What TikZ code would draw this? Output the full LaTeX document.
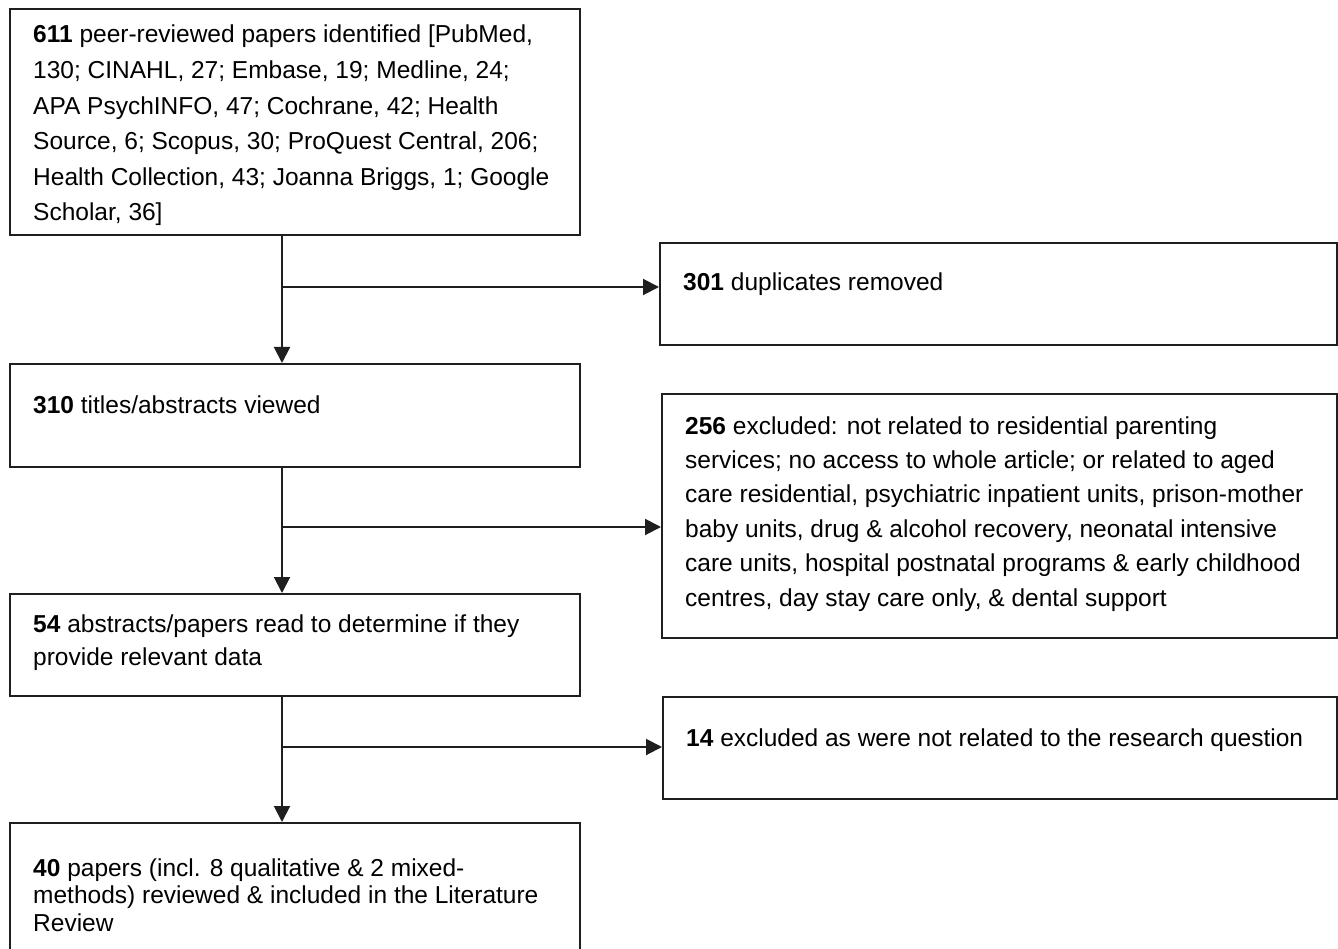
\documentclass[tikz,border=0pt]{standalone}
\usepackage{fontspec}
\setmainfont{Liberation Sans}
\usetikzlibrary{arrows.meta}
\begin{document}
\begin{tikzpicture}[x=1pt,y=-1pt,
  frame/.style={draw=black!88, line width=2pt, inner sep=0pt, anchor=north west},
  txt/.style={anchor=base west, align=left, inner sep=0pt, font=\fontsize{24.5}{#1}\selectfont},
  txt/.default=34.6,
  conn/.style={draw=black!88, line width=2pt},
  arr/.style={conn, -{Triangle[length=16pt,width=16pt]}}]
\useasboundingbox (0,0) rectangle (1338,949);
\clip (0,0) rectangle (1338,949);
\fill[white] (0,0) rectangle (1338,949);
% boxes
\node[frame, minimum width=570pt, minimum height=226pt] (b1) at (9,8) {};
\node[frame, minimum width=677pt, minimum height=102pt] (b2) at (659,242) {};
\node[frame, minimum width=570pt, minimum height=103pt] (b3) at (9,363) {};
\node[frame, minimum width=675pt, minimum height=244pt] (b4) at (661,393) {};
\node[frame, minimum width=570pt, minimum height=102pt] (b5) at (9,593) {};
\node[frame, minimum width=674pt, minimum height=102pt] (b6) at (662,696) {};
\node[frame, minimum width=570pt, minimum height=200pt] (b7) at (9,822) {};
% texts (anchor = baseline of the last line)
\node[txt=35.6] (t1) at (33,221) {\textbf{611} peer-reviewed papers identified [PubMed,\\
130; CINAHL, 27; Embase, 19; Medline, 24;\\
APA PsychINFO, 47; Cochrane, 42; Health\\
Source, 6; Scopus, 30; ProQuest Central, 206;\\
Health Collection, 43; Joanna Briggs, 1; Google\\
Scholar, 36]};
\node[txt] (t2) at (683,291) {\textbf{301} duplicates removed};
\node[txt] (t3) at (33,413) {\textbf{310} titles/abstracts viewed};
\node[txt=34.4] (t4) at (685,606) {\textbf{256} excluded: not related to residential parenting\\
services; no access to whole article; or related to aged\\
care residential, psychiatric inpatient units, prison-mother\\
baby units, drug \& alcohol recovery, neonatal intensive\\
care units, hospital postnatal programs \& early childhood\\
centres, day stay care only, \& dental support};
\node[txt=33] (t5) at (33,665) {\textbf{54} abstracts/papers read to determine if they\\
provide relevant data};
\node[txt] (t6) at (686,746) {\textbf{14} excluded as were not related to the research question};
\node[txt=27.5] (t7) at (33,931) {\textbf{40} papers (incl. 8 qualitative \& 2 mixed-\\
methods) reviewed \& included in the Literature\\
Review};
% connectors
\coordinate (x1) at (282,287);
\coordinate (x2) at (282,527);
\coordinate (x3) at (282,747);
\draw[arr] (x1 |- b1.south) -- (x1 |- b3.north);
\draw[arr] (x1) -- (x1 -| b2.west);
\draw[arr] (x2 |- b3.south) -- (x2 |- b5.north);
\draw[arr] (x2) -- (x2 -| b4.west);
\draw[arr] (x3 |- b5.south) -- (x3 |- b7.north);
\draw[arr] (x3) -- (x3 -| b6.west);
\end{tikzpicture}
\end{document}
